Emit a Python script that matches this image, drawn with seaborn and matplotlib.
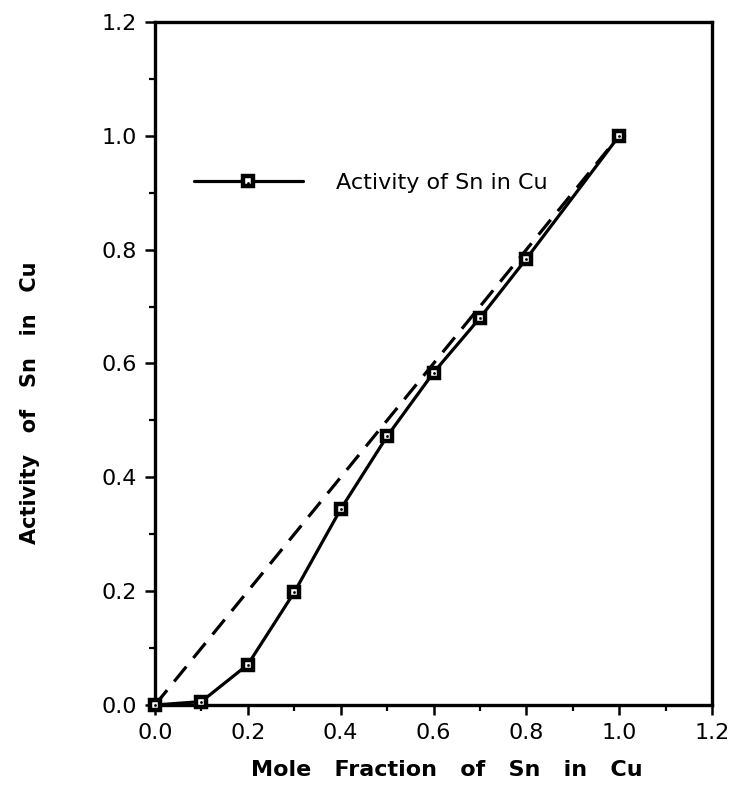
import numpy as np
import pandas as pd
import matplotlib
matplotlib.use("Agg")
import matplotlib.pyplot as plt
import seaborn as sns
from matplotlib.legend_handler import HandlerTuple
from matplotlib.ticker import MultipleLocator

# ---- data ----
mole_fraction = [0.0, 0.1, 0.2, 0.3, 0.4, 0.5, 0.6, 0.7, 0.8, 1.0]
activity = [0.0, 0.006, 0.071, 0.198, 0.344, 0.472, 0.584, 0.680, 0.784, 1.0]
ideal_x = [0.0, 1.0]
ideal_y = [0.0, 1.0]
x_ticks = [0.0, 0.2, 0.4, 0.6, 0.8, 1.0, 1.2]
y_ticks = [0.0, 0.2, 0.4, 0.6, 0.8, 1.0, 1.2]
series_label = "Activity of Sn in Cu"
x_label = "Mole   Fraction   of   Sn   in   Cu"
y_label = "Activity   of   Sn   in   Cu"

sns.set_theme(style="ticks")
plt.rcParams["font.family"] = ["DejaVu Sans"]

fig = plt.figure(figsize=(7.38, 7.86), dpi=100)
ax = fig.add_axes([155 / 738, 1 - 705 / 786, 557 / 738, 683 / 786])

df = pd.DataFrame({"x": mole_fraction, "y": activity})
df_ideal = pd.DataFrame({"x": ideal_x, "y": ideal_y})

sns.lineplot(data=df_ideal, x="x", y="y", ax=ax, color="black", lw=2.3,
             linestyle=(0, (6, 3.5)), zorder=2, legend=False, errorbar=None)
sns.lineplot(data=df, x="x", y="y", ax=ax, color="black", lw=2.3,
             marker="s", markersize=7.5, markerfacecolor="white",
             markeredgecolor="black", markeredgewidth=3.2, zorder=3,
             legend=False, clip_on=False, errorbar=None)
sns.scatterplot(data=df, x="x", y="y", ax=ax, color="black", s=4,
                linewidth=0, zorder=4, legend=False, clip_on=False)

ax.set_xlim(x_ticks[0], x_ticks[-1])
ax.set_ylim(y_ticks[0], y_ticks[-1])
ax.set_xticks(x_ticks)
ax.set_yticks(y_ticks)
ax.set_xticklabels([f"{v:.1f}" for v in x_ticks])
ax.set_yticklabels([f"{v:.1f}" for v in y_ticks])
ax.xaxis.set_minor_locator(MultipleLocator(0.1))
ax.yaxis.set_minor_locator(MultipleLocator(0.1))
ax.tick_params(which="major", direction="out", length=7, width=1.8,
               labelsize=16, pad=6, color="black", labelcolor="black")
ax.tick_params(which="minor", direction="out", length=4, width=1.6,
               color="black")

for s in ax.spines.values():
    s.set_linewidth(2.4)
    s.set_color("black")

ax.set_xlabel(x_label, fontsize=16, fontweight="bold", va="center", color="black")
ax.set_ylabel(y_label, fontsize=15, fontweight="bold", va="center", color="black")
ax.xaxis.set_label_coords(0.524, -65 / 683)
ax.yaxis.set_label_coords(-125 / 557, 0.442)

# legend
h_line = ax.lines[1]
h_dot = ax.collections[-1]
leg = ax.legend(handles=[(h_line, h_dot)], labels=[series_label],
                handler_map={tuple: HandlerTuple(ndivide=1)},
                loc="center left", bbox_to_anchor=(0.07, 0.765),
                frameon=False, fontsize=16, handlelength=4.9,
                handletextpad=1.5, borderpad=0, borderaxespad=0)
for t in leg.get_texts():
    t.set_color("black")

fig.savefig("out.png", dpi=100, facecolor="white")
